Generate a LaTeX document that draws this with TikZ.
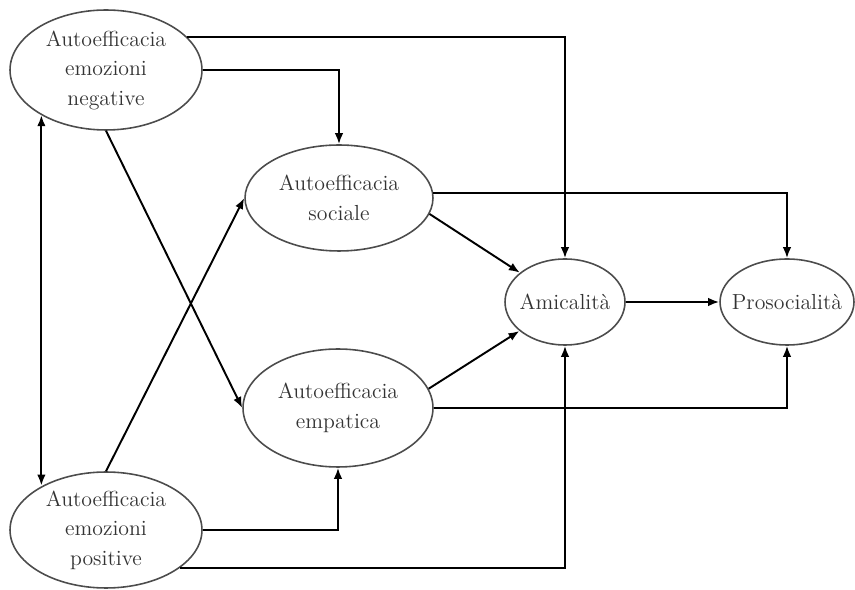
\documentclass[tikz,border=0pt]{standalone}
\usepackage{tikz}
\usetikzlibrary{positioning, shapes.geometric, arrows.meta}

\begin{document}
\begin{tikzpicture}[
    x=0.02cm, y=-0.02cm,
    every node/.style={align=center, font=\fontsize{12.4}{16.8}\selectfont, text=black!80},
    latent/.style={ellipse, draw=black!70, line width=0.9pt, inner xsep=-7pt, inner ysep=-2pt},
    link/.style={line width=1.1pt, ->},
    >={Latex[length=2.2mm,width=1.7mm]}
]
    \useasboundingbox (0,0) rectangle (855,590);

    % latent variables
    \node[latent, minimum width=3.84cm, minimum height=2.4cm] (neg) at (106,70) {Autoefficacia\\emozioni\\negative};
    \node[latent, minimum width=3.84cm, minimum height=2.32cm] (pos) at (106,530) {Autoefficacia\\emozioni\\positive};
    \node[latent, minimum width=3.76cm, minimum height=2.12cm] (soc) at (339,198) {Autoefficacia\\sociale};
    \node[latent, minimum width=3.8cm, minimum height=2.36cm] (emp) at (338,408) {Autoefficacia\\empatica};
    \node[latent, minimum width=2.4cm, minimum height=1.72cm] (amic) at (565,302) {Amicalità};
    \node[latent, minimum width=2.68cm, minimum height=1.72cm] (pros) at (787,302) {Prosocialità};

    % paths
    \draw[link] (neg.22) -| (amic);
    \draw[link] (neg.east) -| (soc);
    \draw[link] (neg.south) -- (emp.west);
    \draw[link] (pos.north) -- (soc.west);
    \draw[link, <->] (neg.215) -- (neg.215 |- pos.145);
    \draw[link] (pos.east) -| (emp);
    \draw[link] (pos.-27) -| (amic);
    \draw[link] (soc.-10) -- (amic);
    \draw[link] (emp.12) -- (amic);
    \draw[link] (soc.3) -| (pros);
    \draw[link] (emp.east) -| (pros);
    \draw[link] (amic) -- (pros);
\end{tikzpicture}
\end{document}
